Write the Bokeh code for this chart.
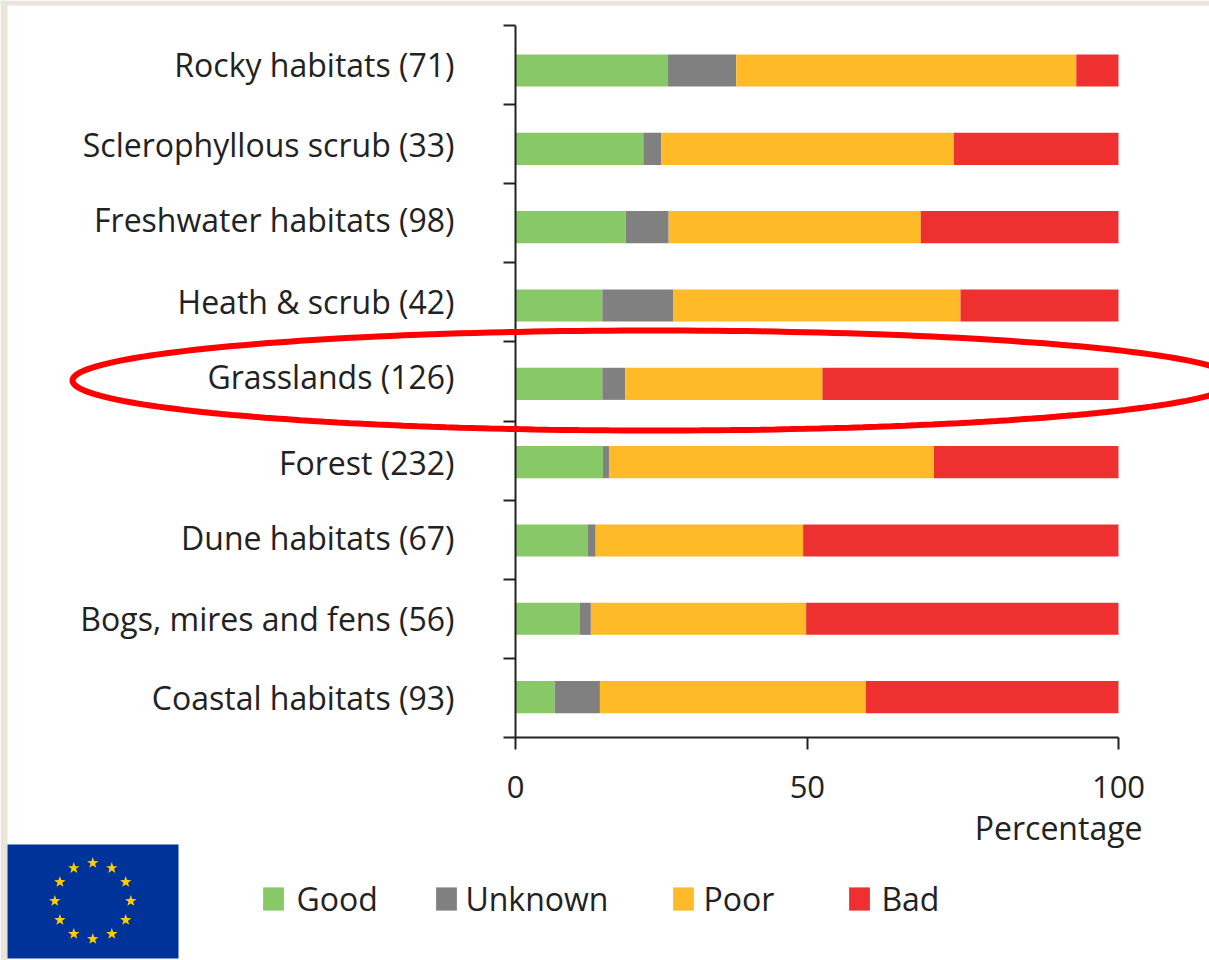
import numpy as np
from bokeh.plotting import figure
from bokeh.embed import file_html
from bokeh.resources import INLINE
from bokeh.core.properties import value
from bokeh.models import (ColumnDataSource, Range1d, FixedTicker, LabelSet, Label, Legend, LegendItem,
                          PolyAnnotation, BoxAnnotation, CustomJSTickFormatter)

categories = ["Rocky habitats (71)", "Sclerophyllous scrub (33)", "Freshwater habitats (98)",
              "Heath & scrub (42)", "Grasslands (126)", "Forest (232)", "Dune habitats (67)",
              "Bogs, mires and fens (56)", "Coastal habitats (93)"]
good = [25.3, 21.2, 18.3, 14.4, 14.4, 14.5, 12.0, 10.7, 6.5]
unknown = [11.3, 3.0, 7.1, 11.8, 3.8, 1.0, 1.3, 1.8, 7.5]
poor = [56.4, 48.5, 41.8, 47.6, 32.7, 53.9, 34.4, 35.7, 44.1]
bad = [7.0, 27.3, 32.8, 26.2, 49.1, 30.6, 52.3, 51.8, 41.9]
series = ["Good", "Unknown", "Poor", "Bad"]
colors = ["#89C866", "#808080", "#FEBB27", "#EF3030"]
x_tick_positions = [0, 48.4, 100]
x_tick_labels = ["0", "50", "100"]

FONT = "Open Sans"
INK = "#222222"
W, H = 1209, 960
L, R, T, B = 515, 1118, 25, 737
BAR0, BAR_STEP = 70.0, 78.33
SX = (R - L) / 100.0


def dx(px):
    return (np.asarray(px, dtype=float) - L) / SX


def dy(py):
    return (np.asarray(py, dtype=float) - BAR0) / BAR_STEP


y_top, y_bot = float(dy(T)), float(dy(B))
p = figure(width=W, height=H, output_backend="svg", toolbar_location=None,
           x_range=Range1d(float(dx(0)), float(dx(W))), y_range=Range1d(float(dy(H)), float(dy(0))),
           min_border=0, background_fill_color="white", border_fill_color="white", outline_line_color=None)
p.grid.visible = False

src = ColumnDataSource(dict(y=list(range(len(categories))), Good=good, Unknown=unknown, Poor=poor, Bad=bad))
rs = p.hbar_stack(series, y="y", height=0.41, color=colors, source=src, line_color=None)

for ax in (p.xaxis[0], p.yaxis[0]):
    ax.axis_line_color = INK
    ax.axis_line_width = 2
    ax.major_tick_line_color = INK
    ax.major_tick_line_width = 2
    ax.major_tick_in = 0
    ax.major_tick_out = 12
    ax.minor_tick_line_color = None

p.xaxis[0].fixed_location = y_bot
p.xaxis[0].bounds = (0, 100)
p.yaxis[0].fixed_location = 0
p.yaxis[0].bounds = (y_top, y_bot)
p.yaxis[0].ticker = FixedTicker(ticks=list(np.linspace(y_top, y_bot, len(categories) + 1)))
p.yaxis[0].formatter = CustomJSTickFormatter(code="return ''")
p.xaxis[0].ticker = FixedTicker(ticks=x_tick_positions)
p.xaxis[0].major_label_overrides = dict(zip(x_tick_positions, x_tick_labels))
p.xaxis[0].major_label_text_font = FONT
p.xaxis[0].major_label_text_font_size = "31px"
p.xaxis[0].major_label_text_color = INK
p.xaxis[0].major_label_standoff = 26

# category labels: the source's labels sit slightly off their bars
nudge = [6, 4, 8, 4, 7.5, 0, 2.5, 0, -0.5]
lab = ColumnDataSource(dict(x=[0] * len(categories), y=list(range(len(categories))), t=categories, n=nudge))
p.add_layout(LabelSet(x="x", y="y", text="t", source=lab, x_offset=-61, y_offset="n",
                      text_font=value(FONT), text_font_size="32px", text_color=INK,
                      text_align="right", text_baseline="middle"))

p.add_layout(Label(x=100, y=float(dy(827)), x_offset=24, text="Percentage", text_font=FONT,
                   text_font_size="32px", text_color=INK, text_align="right", text_baseline="middle"))

# one legend per entry: the source's entries are unevenly spaced
legend_x = [263, 436, 673, 849]
legend_standoff = [10, 6, 7, 9]
for r, s, lx, sd in zip(rs, series, legend_x, legend_standoff):
    lg = Legend(items=[LegendItem(label=s, renderers=[r])], location=(lx - 2.6, 40),
                orientation="horizontal", glyph_width=26, glyph_height=29, label_standoff=sd,
                padding=0, margin=0, border_line_color=None, background_fill_alpha=0,
                label_text_font=FONT, label_text_font_size="32px", label_text_color=INK,
                label_height=29)
    p.add_layout(lg)

# page edge
beige = "#EAE4D9"
p.add_layout(BoxAnnotation(left=float(dx(0)), right=float(dx(7)), top=float(dy(0)), bottom=float(dy(960)),
                           fill_color=beige, fill_alpha=1, line_color=None))
p.add_layout(BoxAnnotation(left=float(dx(0)), right=float(dx(1209)), top=float(dy(0)), bottom=float(dy(5)),
                           fill_color=beige, fill_alpha=1, line_color=None))

# EU flag
p.add_layout(BoxAnnotation(left=float(dx(7)), right=float(dx(178)), top=float(dy(844)), bottom=float(dy(958)),
                           fill_color="#003399", fill_alpha=1, line_color=None))
fx, fy, fr = 92.3, 900.5, 38.0
for k in range(12):
    a = np.radians(30 * k)
    cx, cy = fx + fr * np.sin(a), fy - fr * np.cos(a)
    ang = np.radians(np.arange(10) * 36)
    rad = np.where(np.arange(10) % 2 == 0, 6.0, 2.4)
    p.add_layout(PolyAnnotation(xs=list(dx(cx + rad * np.sin(ang))), ys=list(dy(cy - rad * np.cos(ang))),
                                fill_color="#FFCC00", fill_alpha=1, line_color=None))

# highlight ellipse around Grasslands
t = np.linspace(0, 2 * np.pi, 241)[:-1]
p.add_layout(PolyAnnotation(xs=list(dx(654 + 582 * np.cos(t))), ys=list(dy(380 + 50 * np.sin(t))),
                            fill_alpha=0, line_color="#FF0000", line_alpha=1, line_width=6))

open("out.html", "w").write(file_html(p, INLINE))
